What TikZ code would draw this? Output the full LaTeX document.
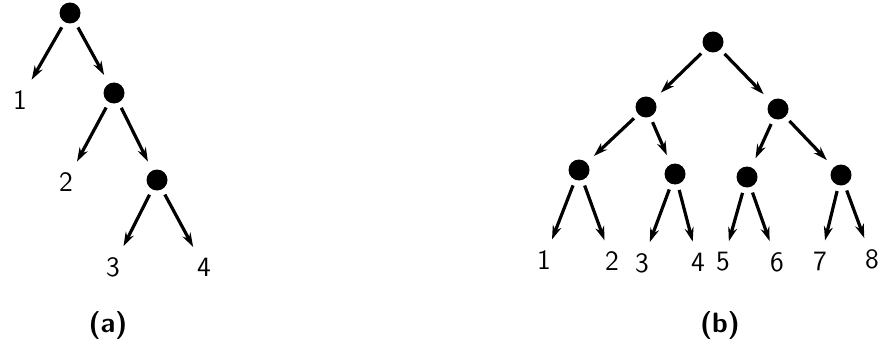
\documentclass[tikz,border=0pt]{standalone}
\usetikzlibrary{arrows.meta}
\begin{document}
\begin{tikzpicture}[x=0.5pt,y=-0.5pt,
  dot/.style={circle,fill=black,inner sep=0pt,minimum size=10.5pt,outer sep=3pt},
  leaf/.style={inner sep=3.5pt,font=\sffamily\fontsize{14}{16}\selectfont},
  captionlbl/.style={font=\sffamily\bfseries\fontsize{14}{16}\selectfont},
  edge/.style={line width=1.6pt,-{Stealth[length=7pt,width=4.5pt]},shorten >=2pt}]
\useasboundingbox (0,0) rectangle (881,358);
% tree (a)
\node[dot] (a0) at (70,13) {};
\node[dot] (a1) at (114,93) {};
\node[dot] (a2) at (157,180) {};
\node[leaf] (a1l) at (20,100) {1};
\node[leaf] (a2l) at (66,182) {2};
\node[leaf] (a3l) at (113,267) {3};
\node[leaf] (a4l) at (204,267) {4};
\draw[edge] (a0) -- (a1l);
\draw[edge] (a0) -- (a1);
\draw[edge] (a1) -- (a2l);
\draw[edge] (a1) -- (a2);
\draw[edge] (a2) -- (a3l);
\draw[edge] (a2) -- (a4l);
\node[captionlbl] (capa) at (108,325) {(a)};
% tree (b)
\node[dot] (b0) at (713,42) {};
\node[dot] (bL) at (646,107) {};
\node[dot] (bR) at (778,109) {};
\node[dot] (bLL) at (579,170) {};
\node[dot] (bLR) at (675,174) {};
\node[dot] (bRL) at (747,177) {};
\node[dot] (bRR) at (841,175) {};
\node[leaf] (l1) at (544,260) {1};
\node[leaf] (l2) at (612,261) {2};
\node[leaf] (l3) at (642,263) {3};
\node[leaf] (l4) at (698,262) {4};
\node[leaf] (l5) at (723,262) {5};
\node[leaf] (l6) at (777,262) {6};
\node[leaf] (l7) at (820,261) {7};
\node[leaf] (l8) at (872,259) {8};
\draw[edge] (b0) -- (bL);
\draw[edge] (b0) -- (bR);
\draw[edge] (bL) -- (bLL);
\draw[edge] (bL) -- (bLR);
\draw[edge] (bR) -- (bRL);
\draw[edge] (bR) -- (bRR);
\draw[edge] (bLL) -- (l1);
\draw[edge] (bLL) -- (l2);
\draw[edge] (bLR) -- (l3);
\draw[edge] (bLR) -- (l4);
\draw[edge] (bRL) -- (l5);
\draw[edge] (bRL) -- (l6);
\draw[edge] (bRR) -- (l7);
\draw[edge] (bRR) -- (l8);
\node[captionlbl] (capb) at (720,325) {(b)};
\end{tikzpicture}
\end{document}
